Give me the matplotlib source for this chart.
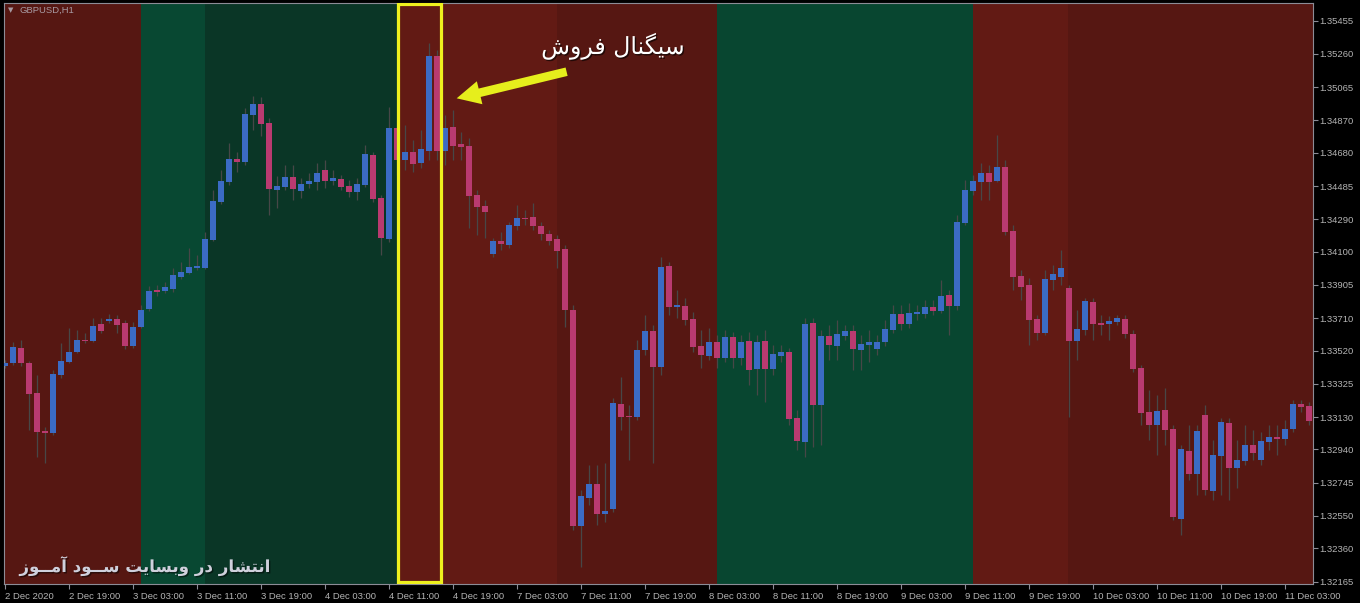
import matplotlib
matplotlib.use("Agg")
import matplotlib.pyplot as plt
import matplotlib.patheffects as pe
from matplotlib.patches import Rectangle, FancyArrowPatch
from matplotlib.transforms import blended_transform_factory

# ---------------- data ----------------
opens = [1.33430,1.33449,1.33534,1.33449,1.33273,1.33049,1.33039,1.33377,1.33455,1.33514,
         1.33585,1.33578,1.33676,1.33692,1.33704,1.33680,1.33547,1.33660,1.33762,1.33875,
         1.33871,1.33881,1.33953,1.33977,1.34006,1.34006,1.34169,1.34393,1.34511,1.34644,
         1.34626,1.34902,1.34966,1.34855,1.34462,1.34481,1.34540,1.34456,1.34497,1.34507,
         1.34579,1.34515,1.34526,1.34485,1.34450,1.34491,1.34667,1.34413,1.34175,1.34827,
         1.34638,1.34686,1.34618,1.34691,1.35248,1.34691,1.34833,1.34730,1.34722,1.34433,
         1.34370,1.34087,1.34163,1.34139,1.34251,1.34299,1.34302,1.34251,1.34204,1.34175,
         1.34116,1.33758,1.32492,1.32658,1.32738,1.32562,1.32591,1.33207,1.33138,1.33129,
         1.33524,1.33635,1.33426,1.34018,1.33778,1.33782,1.33705,1.33547,1.33488,1.33572,
         1.33475,1.33598,1.33475,1.33576,1.33410,1.33576,1.33410,1.33490,1.33510,1.33127,
         1.32982,1.33684,1.33201,1.33606,1.33547,1.33608,1.33635,1.33524,1.33553,1.33530,
         1.33569,1.33641,1.33735,1.33676,1.33735,1.33735,1.33774,1.33754,1.33846,1.33782,
         1.34270,1.34456,1.34511,1.34560,1.34515,1.34598,1.34223,1.33959,1.33905,1.33705,
         1.33625,1.33934,1.33953,1.33889,1.33578,1.33641,1.33807,1.33684,1.33676,1.33690,
         1.33705,1.33617,1.33420,1.33158,1.33084,1.33172,1.33060,1.32533,1.32931,1.32796,
         1.33142,1.32697,1.32904,1.33097,1.32833,1.32875,1.32966,1.32879,1.32986,1.33015,
         1.33000,1.33059,1.33205,1.33195]
highs = [1.33465,1.33571,1.33582,1.33459,1.33377,1.33072,1.33406,1.33565,1.33653,1.33641,
         1.33623,1.33711,1.33711,1.33735,1.33729,1.33700,1.33688,1.33788,1.33899,1.33905,
         1.33922,1.34004,1.34040,1.34122,1.34081,1.34216,1.34462,1.34579,1.34737,1.34685,
         1.34943,1.35013,1.35007,1.34884,1.34544,1.34608,1.34608,1.34532,1.34562,1.34620,
         1.34638,1.34579,1.34550,1.34520,1.34532,1.34726,1.34685,1.34433,1.34949,1.34872,
         1.34843,1.34755,1.34814,1.35324,1.35283,1.34902,1.34931,1.34802,1.34767,1.34462,
         1.34403,1.34180,1.34216,1.34274,1.34374,1.34345,1.34386,1.34274,1.34227,1.34198,
         1.34139,1.33788,1.32703,1.32849,1.32849,1.32861,1.33242,1.33365,1.33201,1.33582,
         1.33729,1.33670,1.34069,1.34040,1.33875,1.33829,1.33746,1.33641,1.33653,1.33612,
         1.33641,1.33629,1.33612,1.33629,1.33612,1.33641,1.33553,1.33553,1.33535,1.33172,
         1.33711,1.33711,1.33641,1.33670,1.33700,1.33670,1.33670,1.33612,1.33641,1.33612,
         1.33700,1.33788,1.33788,1.33799,1.33788,1.33817,1.33817,1.33934,1.33875,1.34315,
         1.34520,1.34550,1.34620,1.34608,1.34784,1.34638,1.34257,1.33993,1.33946,1.33729,
         1.33993,1.34022,1.34110,1.33905,1.33758,1.33829,1.33829,1.33729,1.33723,1.33729,
         1.33729,1.33641,1.33436,1.33289,1.33260,1.33301,1.33084,1.32966,1.33084,1.33084,
         1.33201,1.32996,1.33125,1.33125,1.32996,1.33084,1.33055,1.33043,1.33084,1.33084,
         1.33113,1.33230,1.33230,1.33219]
lows = [1.33418,1.33436,1.33430,1.33055,1.32896,1.32861,1.33025,1.33359,1.33447,1.33506,
        1.33565,1.33571,1.33623,1.33682,1.33623,1.33530,1.33535,1.33653,1.33752,1.33840,
        1.33858,1.33864,1.33940,1.33969,1.33993,1.33999,1.34163,1.34380,1.34491,1.34567,
        1.34608,1.34814,1.34779,1.34315,1.34356,1.34462,1.34403,1.34415,1.34474,1.34462,
        1.34474,1.34491,1.34462,1.34421,1.34403,1.34479,1.34392,1.34081,1.34157,1.34550,
        1.34579,1.34567,1.34591,1.34638,1.34638,1.34608,1.34638,1.34638,1.34239,1.34198,
        1.34180,1.34069,1.34110,1.34122,1.34227,1.34257,1.34227,1.34169,1.34139,1.34004,
        1.33659,1.32468,1.32251,1.32615,1.32497,1.32515,1.32574,1.33055,1.32879,1.33113,
        1.33494,1.32861,1.33377,1.33729,1.33711,1.33670,1.33512,1.33418,1.33465,1.33418,
        1.33453,1.33418,1.33436,1.33318,1.33260,1.33219,1.33377,1.33453,1.33084,1.32937,
        1.32896,1.32955,1.32966,1.33465,1.33465,1.33582,1.33406,1.33406,1.33453,1.33494,
        1.33547,1.33623,1.33641,1.33653,1.33700,1.33711,1.33729,1.33741,1.33612,1.33758,
        1.34257,1.34433,1.34403,1.34403,1.34509,1.34198,1.33875,1.33817,1.33553,1.33582,
        1.33612,1.33875,1.33905,1.33131,1.33465,1.33612,1.33582,1.33612,1.33582,1.33670,
        1.33594,1.33395,1.33084,1.32996,1.32908,1.32966,1.32527,1.32439,1.32761,1.32673,
        1.32673,1.32644,1.32673,1.32644,1.32714,1.32849,1.32879,1.32849,1.32937,1.32908,
        1.32966,1.33043,1.33160,1.33084]
closes = [1.33447,1.33543,1.33449,1.33266,1.33045,1.33039,1.33383,1.33459,1.33514,1.33582,
          1.33579,1.33664,1.33637,1.33704,1.33672,1.33547,1.33660,1.33758,1.33870,1.33864,
          1.33895,1.33963,1.33983,1.34012,1.34018,1.34176,1.34397,1.34515,1.34644,1.34628,
          1.34908,1.34966,1.34851,1.34468,1.34487,1.34540,1.34468,1.34495,1.34515,1.34563,
          1.34515,1.34534,1.34478,1.34450,1.34497,1.34673,1.34409,1.34180,1.34827,1.34638,
          1.34686,1.34614,1.34702,1.35248,1.34691,1.34827,1.34720,1.34716,1.34428,1.34364,
          1.34335,1.34165,1.34143,1.34257,1.34296,1.34292,1.34251,1.34202,1.34163,1.34106,
          1.33758,1.32492,1.32668,1.32738,1.32562,1.32581,1.33211,1.33133,1.33129,1.33524,
          1.33635,1.33426,1.34012,1.33774,1.33789,1.33700,1.33543,1.33494,1.33572,1.33475,
          1.33598,1.33475,1.33572,1.33406,1.33572,1.33410,1.33500,1.33510,1.33119,1.32990,
          1.33676,1.33201,1.33606,1.33553,1.33616,1.33635,1.33530,1.33559,1.33569,1.33569,
          1.33647,1.33735,1.33676,1.33739,1.33745,1.33774,1.33754,1.33842,1.33782,1.34276,
          1.34462,1.34515,1.34560,1.34511,1.34598,1.34217,1.33953,1.33895,1.33700,1.33625,
          1.33940,1.33968,1.34003,1.33578,1.33647,1.33811,1.33676,1.33672,1.33694,1.33713,
          1.33617,1.33412,1.33156,1.33084,1.33166,1.33055,1.32543,1.32943,1.32796,1.33049,
          1.32703,1.32908,1.33100,1.32833,1.32879,1.32966,1.32918,1.32990,1.33015,1.33000,
          1.33060,1.33207,1.33191,1.33109]

time_labels = ["2 Dec 2020", "2 Dec 19:00", "3 Dec 03:00", "3 Dec 11:00", "3 Dec 19:00",
               "4 Dec 03:00", "4 Dec 11:00", "4 Dec 19:00", "7 Dec 03:00", "7 Dec 11:00",
               "7 Dec 19:00", "8 Dec 03:00", "8 Dec 11:00", "8 Dec 19:00", "9 Dec 03:00",
               "9 Dec 11:00", "9 Dec 19:00", "10 Dec 03:00", "10 Dec 11:00", "10 Dec 19:00",
               "11 Dec 03:00"]
label_step = 8  # bars between time labels

price_ticks = [1.35455, 1.35260, 1.35065, 1.34870, 1.34680, 1.34485, 1.34290, 1.34100,
               1.33905, 1.33710, 1.33520, 1.33325, 1.33130, 1.32940, 1.32745, 1.32550,
               1.32360, 1.32165]

# background zones (bar-index edges) and colours
zone_edges = [-1.0, 16.95, 24.95, 48.95, 68.95, 88.95, 121.0, 132.9, 165.0]
zone_colors = ["#561712", "#084832", "#0a3626", "#621a14", "#561712",
               "#084630", "#621a14", "#561712"]

signal_bars = (49, 54)   # highlighted sell-signal candles
title_text = "سیگنال فروش"
footer_text = "انتشار در وبسایت ســود آمــوز"
symbol_text = "GBPUSD,H1"

# ---------------- simple Persian shaping ----------------
JOIN_DUAL = set("بپتثجچحخسشصضطظعغفقکگلمنهیـ")
JOIN_RIGHT = set("اآأإدذرزژوة")
FORMS = {
    "ا": ("\uFE8D", "\uFE8E", None, None),
    "آ": ("\uFE81", "\uFE82", None, None),
    "د": ("\uFEA9", "\uFEAA", None, None),
    "ر": ("\uFEAD", "\uFEAE", None, None),
    "ز": ("\uFEAF", "\uFEB0", None, None),
    "و": ("\uFEED", "\uFEEE", None, None),
    "ب": ("\uFE8F", "\uFE90", "\uFE91", "\uFE92"),
    "ت": ("\uFE95", "\uFE96", "\uFE97", "\uFE98"),
    "س": ("\uFEB1", "\uFEB2", "\uFEB3", "\uFEB4"),
    "ش": ("\uFEB5", "\uFEB6", "\uFEB7", "\uFEB8"),
    "ف": ("\uFED1", "\uFED2", "\uFED3", "\uFED4"),
    "ل": ("\uFEDD", "\uFEDE", "\uFEDF", "\uFEE0"),
    "م": ("\uFEE1", "\uFEE2", "\uFEE3", "\uFEE4"),
    "ن": ("\uFEE5", "\uFEE6", "\uFEE7", "\uFEE8"),
    "ی": ("\uFBFC", "\uFBFD", "\uFBFE", "\uFBFF"),
    "گ": ("\uFB92", "\uFB93", "\uFB94", "\uFB95"),
    "ـ": ("\u0640", "\u0640", "\u0640", "\u0640"),
}

def shape(s):
    out = []
    n = len(s)
    for i, ch in enumerate(s):
        if ch not in FORMS:
            out.append(ch)
            continue
        prev = s[i - 1] if i > 0 else ""
        nxt = s[i + 1] if i < n - 1 else ""
        jp = prev in JOIN_DUAL
        jn = (ch in JOIN_DUAL) and (nxt in JOIN_DUAL or nxt in JOIN_RIGHT)
        f = FORMS[ch]
        if jp and jn:
            g = f[3]
        elif jp:
            g = f[1]
        elif jn:
            g = f[2]
        else:
            g = f[0]
        out.append(g)
    return "".join(reversed(out))

# ---------------- figure ----------------
W, H = 1360, 603
fig = plt.figure(figsize=(W / 100, H / 100), dpi=100, facecolor="#000000")
left_px, right_px, top_px, bot_px = 3.5, 1312.5, 2.5, 584.0
ax = fig.add_axes([left_px / W, (H - bot_px) / H, (right_px - left_px) / W, (bot_px - top_px) / H])
ax.set_facecolor("#561712")

n = len(opens)
x = list(range(n))

ax.set_xlim(-0.1875, 163.4375)
ax.set_ylim(1.32151, 1.35562)

for i in range(len(zone_colors)):
    ax.axvspan(zone_edges[i], zone_edges[i + 1], color=zone_colors[i], lw=0, zorder=0)

bull_c = "#3b6bc4"
bear_c = "#b93a70"
wick_c = "#474747"

ax.vlines(x, lows, highs, colors=wick_c, lw=0.9, zorder=2)
bottoms = [min(o, c) for o, c in zip(opens, closes)]
heights = [max(abs(c - o), 0.000012) for o, c in zip(opens, closes)]
cols = [bull_c if c >= o else bear_c for o, c in zip(opens, closes)]
ax.bar(x, heights, bottom=bottoms, width=0.8, color=cols, lw=0, zorder=3)

# axes styling
for s in ax.spines.values():
    s.set_color("#8c8c96")
    s.set_linewidth(0.8)
tick_font = "Liberation Sans"
ax.yaxis.tick_right()
ax.set_yticks(price_ticks)
ax.set_yticklabels([f"{p:.5f}" for p in price_ticks], family=tick_font)
ax.tick_params(axis="y", colors="#8c8c96", labelcolor="#b4b4b4", length=3.5, width=0.8,
               direction="out", pad=1.5, labelsize=6.8)
xt = [k * label_step for k in range(len(time_labels))]
ax.set_xticks(xt)
ax.set_xticklabels(time_labels, ha="left", family=tick_font)
ax.tick_params(axis="x", colors="#8c8c96", labelcolor="#b4b4b4", length=3.5, width=0.8,
               direction="out", pad=2.5, labelsize=6.8)

blend = blended_transform_factory(ax.transData, ax.transAxes)

# highlighted signal rectangle
rect = Rectangle((signal_bars[0] + 0.09, 0.0026), signal_bars[1] - signal_bars[0] + 0.41, 0.9948,
                 transform=blend, fill=False, ec="#eef01e", lw=2.3, zorder=6)
ax.add_patch(rect)

# arrow
arr = FancyArrowPatch((70.2, 1.35156), (56.46, 1.35000),
                      arrowstyle="simple,head_length=17,head_width=17,tail_width=6.2",
                      mutation_scale=1, color="#e6ee1c", lw=0, shrinkA=0, shrinkB=0,
                      zorder=7, capstyle="round")
ax.add_patch(arr)

# texts
ax.text(76.0, 1.35305, shape(title_text), color="white", fontsize=17,
        family=["DejaVu Sans"], ha="center", va="center", zorder=8,
        path_effects=[pe.withSimplePatchShadow(offset=(1, -1), shadow_rgbFace="black", alpha=0.6)])
fig.text(145 / W, 1 - 566 / H, shape(footer_text), color="#cfd0dc", fontsize=12,
         fontweight="bold", family=["DejaVu Sans"], ha="center", va="center", zorder=8,
         path_effects=[pe.withSimplePatchShadow(offset=(1, -1), shadow_rgbFace="black", alpha=0.5)])

fig.text(8 / W, 1 - 10 / H, "▼", color="#a89aa2", fontsize=5, ha="left", va="center")
fig.text(20 / W, 1 - 10 / H, symbol_text, color="#a89aa2", fontsize=6.8, family=tick_font,
         ha="left", va="center")

fig.savefig("out.png", dpi=100, facecolor=fig.get_facecolor())
